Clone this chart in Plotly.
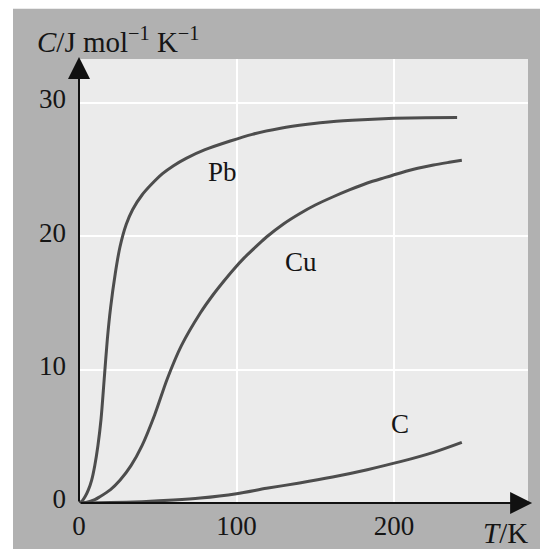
import plotly.graph_objects as go

# ---- data ----
pb_T = [0, 2, 4, 6, 8, 10, 12, 14, 16, 18, 20, 23, 26, 30, 34, 40, 46, 53, 60, 68,
        80, 96, 110, 128, 145, 160, 180, 200, 220, 240]
pb_C = [0, 0.15, 0.5, 1.0, 1.7, 2.8, 4.3, 6.3, 9.3, 12.3, 14.6, 17.2, 19.2, 20.9, 22.0,
        23.1, 23.9, 24.7, 25.3, 25.85, 26.5, 27.15, 27.65, 28.1, 28.4, 28.6, 28.75, 28.85,
        28.9, 28.92]

cu_T = [0, 5, 10, 13, 20, 26, 33, 40, 48, 56, 65, 77, 85, 92, 98, 105, 113, 119, 130,
        140, 150, 161, 172, 183, 194, 204, 215, 225, 235, 243]
cu_C = [0, 0.05, 0.25, 0.45, 1.0, 1.7, 2.8, 4.3, 6.6, 9.3, 11.8, 14.25, 15.6, 16.65, 17.5,
        18.4, 19.3, 19.95, 20.95, 21.7, 22.35, 22.95, 23.5, 24.0, 24.4, 24.75, 25.1, 25.35,
        25.55, 25.7]

c_T = [0, 20, 40, 60, 77, 100, 119, 140, 161, 183, 204, 225, 243]
c_C = [0, 0.03, 0.1, 0.22, 0.37, 0.7, 1.1, 1.5, 1.95, 2.5, 3.1, 3.8, 4.55]

curve_labels = ["Pb", "Cu", "C"]
label_T = [91, 141, 204]
label_C = [24.8, 18.1, 5.9]

x_ticks = [0, 100, 200]
y_ticks = [0, 10, 20, 30]
x_range = [0, 285]
y_range = [0, 33.3]
x_tip = 287.6
y_tip = 33.45

FONT = "Liberation Serif, Times New Roman, serif"
LINE = "#4d4d4d"
INK = "#151515"

fig = go.Figure()
for T, C in [(pb_T, pb_C), (cu_T, cu_C), (c_T, c_C)]:
    fig.add_trace(go.Scatter(x=T, y=C, mode="lines",
                             line=dict(color=LINE, width=3, shape="spline", smoothing=0.8),
                             hoverinfo="skip", showlegend=False))

for name, tx, ty in zip(curve_labels, label_T, label_C):
    fig.add_annotation(x=tx, y=ty, xref="x", yref="y", text=name, showarrow=False,
                       font=dict(family=FONT, size=27, color=INK))

# axis arrows
fig.add_annotation(x=x_tip, y=0, ax=0, ay=0, xref="x", yref="y", axref="x", ayref="y",
                   text="", showarrow=True, arrowhead=2, arrowsize=2.2, arrowwidth=2,
                   arrowcolor="#111111")
fig.add_annotation(x=0, y=y_tip, ax=0, ay=0, xref="x", yref="y", axref="x", ayref="y",
                   text="", showarrow=True, arrowhead=2, arrowsize=2.2, arrowwidth=2,
                   arrowcolor="#111111")

# axis titles
fig.add_annotation(x=-0.098, y=1.043, xref="paper", yref="paper", xanchor="left",
                   yanchor="middle", showarrow=False,
                   text="<i>C</i>/J mol<sup>−1</sup> K<sup>−1</sup>",
                   font=dict(family=FONT, size=29, color=INK))
fig.add_annotation(x=1.004, y=-0.068, xref="paper", yref="paper", xanchor="right",
                   yanchor="middle", showarrow=False, text="<i>T</i>/K",
                   font=dict(family=FONT, size=29, color=INK))

# white page strips outside the grey frame
fig.add_shape(type="rect", xref="paper", yref="paper", x0=-0.2, x1=-0.147, y0=-0.2, y1=1.2,
              fillcolor="white", line=dict(width=0), layer="below")
fig.add_shape(type="rect", xref="paper", yref="paper", x0=-0.2, x1=1.2, y0=1.113, y1=1.2,
              fillcolor="white", line=dict(width=0), layer="below")

fig.update_layout(
    width=540, height=549,
    margin=dict(l=79, r=12, t=59, b=46),
    paper_bgcolor="#b1b1b1",
    plot_bgcolor="#ebebeb",
    font=dict(family=FONT, size=27, color=INK),
    xaxis=dict(range=x_range, tickvals=x_ticks, showgrid=True, gridcolor="white",
               gridwidth=2, zeroline=False, showline=False, ticks="", automargin=False,
               ticklabelstandoff=4, fixedrange=True),
    yaxis=dict(range=y_range, tickvals=y_ticks, showgrid=True, gridcolor="white",
               gridwidth=2, zeroline=False, showline=False, ticks="", automargin=False,
               ticklabelstandoff=12, ticklabelshift=-4, fixedrange=True),
)

fig.write_html("out.html", config={"displayModeBar": False},
               post_script="document.body.style.margin='0';document.body.style.overflow='hidden';")
